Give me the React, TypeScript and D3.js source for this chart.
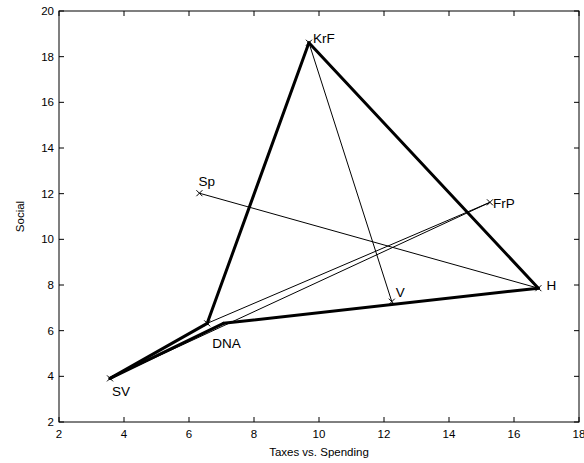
import React from "react";
import * as d3 from "d3";

const parties = ["SV", "DNA", "KrF", "V", "H", "FrP", "Sp", ""];
const taxes = [3.57, 6.56, 9.69, 12.24, 16.75, 15.26, 6.32, 7.06];
const social = [3.91, 6.32, 18.61, 7.27, 7.86, 11.62, 12.02, 6.32];

const thickEdges: [number, number][] = [
  [0, 1],
  [0, 7],
  [7, 4],
  [1, 2],
  [2, 4],
];
const thinEdges: [number, number][] = [
  [6, 4],
  [2, 3],
  [1, 5],
  [0, 5],
];

const xTicks = [2, 4, 6, 8, 10, 12, 14, 16, 18];
const yTicks = [2, 4, 6, 8, 10, 12, 14, 16, 18, 20];

// label offsets in px relative to the marker
const labelOffsets: [number, number][] = [
  [2, 18],
  [5, 25],
  [4, 0],
  [4, -5],
  [8, 2],
  [3, 6],
  [-1, -7],
  [0, 0],
];

export default function App() {
  const W = 584;
  const H = 463;
  const left = 59;
  const right = 579;
  const top = 11;
  const bottom = 422;
  const x = d3.scaleLinear().domain([2, 18]).range([left, right]);
  const y = d3.scaleLinear().domain([2, 20]).range([bottom, top]);
  const font = "Arial, 'Liberation Sans', sans-serif";
  const tl = 5;

  return (
    <div style={{ position: "absolute", left: 0, top: 0 }}>
      <svg width={W} height={H} style={{ display: "block", background: "#fff" }}>
        <rect x={0} y={0} width={W} height={H} fill="#fff" />
        {thinEdges.map(([a, b], k) => (
          <line key={"t" + k} x1={x(taxes[a])} y1={y(social[a])} x2={x(taxes[b])} y2={y(social[b])}
            stroke="#000" strokeWidth={1} />
        ))}
        {thickEdges.map(([a, b], k) => (
          <line key={"T" + k} x1={x(taxes[a])} y1={y(social[a])} x2={x(taxes[b])} y2={y(social[b])}
            stroke="#000" strokeWidth={3} strokeLinecap="round" />
        ))}
        {parties.map((p, i) =>
          p === "" ? null : (
            <path key={"m" + i}
              d={`M${x(taxes[i]) - 3},${y(social[i]) - 3}L${x(taxes[i]) + 3},${y(social[i]) + 3}M${x(taxes[i]) - 3},${y(social[i]) + 3}L${x(taxes[i]) + 3},${y(social[i]) - 3}`}
              stroke="#000" strokeWidth={1} fill="none" />
          )
        )}
        {parties.map((p, i) =>
          p === "" ? null : (
            <text key={"l" + i} x={x(taxes[i]) + labelOffsets[i][0]} y={y(social[i]) + labelOffsets[i][1]}
              fontSize={13.5} fontFamily={font} fill="#000">
              {p}
            </text>
          )
        )}
        <rect x={left} y={top} width={right - left} height={bottom - top} fill="none" stroke="#000" strokeWidth={1} />
        {xTicks.map((t) => (
          <g key={"xt" + t}>
            <line x1={x(t)} x2={x(t)} y1={bottom} y2={bottom - tl} stroke="#000" />
            <line x1={x(t)} x2={x(t)} y1={top} y2={top + tl} stroke="#000" />
            <text x={x(t)} y={438} textAnchor="middle" fontSize={11.5} fontFamily={font}>{t}</text>
          </g>
        ))}
        {yTicks.map((t) => (
          <g key={"yt" + t}>
            <line x1={left} x2={left + tl} y1={y(t)} y2={y(t)} stroke="#000" />
            <line x1={right} x2={right - tl} y1={y(t)} y2={y(t)} stroke="#000" />
            <text x={54} y={y(t) + 4} textAnchor="end" fontSize={11.5} fontFamily={font}>{t}</text>
          </g>
        ))}
        <text x={(left + right) / 2} y={456} textAnchor="middle" fontSize={11.5} fontFamily={font}>Taxes vs. Spending</text>
        <text transform={`translate(24,${(top + bottom) / 2}) rotate(-90)`} textAnchor="middle" fontSize={11.5} fontFamily={font}>Social</text>
      </svg>
    </div>
  );
}
